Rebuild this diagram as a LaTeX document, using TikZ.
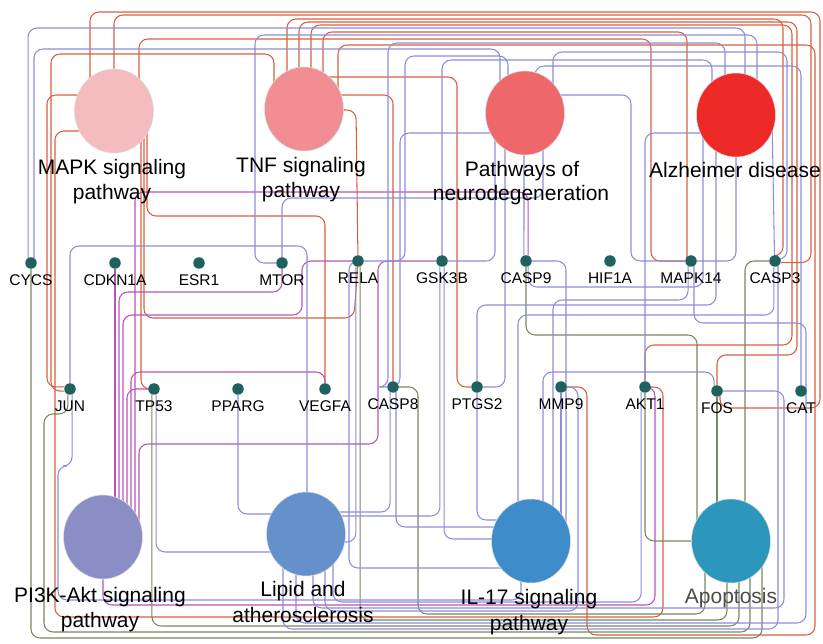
\documentclass[tikz,border=0pt]{standalone}
\usepackage{fontspec}
\setmainfont{Liberation Sans}
\usetikzlibrary{calc,shapes.geometric}
\pgfdeclarelayer{back}
\pgfdeclarelayer{bg}
\pgfsetlayers{back,bg,main}
\definecolor{cR}{RGB}{216,96,62}
\definecolor{cB}{RGB}{140,142,218}
\definecolor{cP}{RGB}{184,84,184}
\definecolor{cG}{RGB}{118,138,94}
\definecolor{cD}{RGB}{30,97,94}
\definecolor{cMAPK}{RGB}{244,188,191}
\definecolor{cTNF}{RGB}{241,142,147}
\definecolor{cPN}{RGB}{238,103,107}
\definecolor{cALZ}{RGB}{238,42,41}
\definecolor{cPI}{RGB}{138,142,197}
\definecolor{cLIP}{RGB}{100,144,203}
\definecolor{cIL}{RGB}{62,141,202}
\definecolor{cAPO}{RGB}{45,150,188}
\tikzset{
  ln/.style={line width=1.05pt, rounded corners=9pt},
  er/.style={ln, draw=cR},
  eb/.style={ln, draw=cB},
  ep/.style={ln, draw=cP},
  eg/.style={ln, draw=cG},
  pw/.style={ellipse, minimum width=79pt, minimum height=84pt, inner sep=0pt, draw=black!12, line width=0.5pt},
  gene/.style={circle, fill=cD, minimum size=11.5pt, inner sep=0pt},
  glab/.style={anchor=base, font=\fontsize{15.5}{17}\selectfont, inner sep=0pt},
  blab/.style={anchor=base, font=\fontsize{21}{25}\selectfont, inner sep=0pt},
}
\begin{document}
\begin{tikzpicture}[x=1pt,y=-1pt]
\useasboundingbox (0,0) rectangle (823,644);
\begin{pgfonlayer}{back}
\fill[white] (0,0) rectangle (823,644);
\end{pgfonlayer}
% pathway nodes
\node[pw, fill=cMAPK] (MAPK) at (114,111) {};
\node[pw, fill=cTNF] (TNF) at (304,109) {};
\node[pw, fill=cPN] (PN) at (525,113) {};
\node[pw, fill=cALZ] (ALZ) at (736,115) {};
\node[pw, fill=cPI] (PI3K) at (103,537) {};
\node[pw, fill=cLIP] (LIP) at (306,534) {};
\node[pw, fill=cIL] (IL17) at (531,541) {};
\node[pw, fill=cAPO] (APO) at (731,541) {};
% pathway labels
\node[blab] (MAPKa) at (112,175) {MAPK signaling};
\node[blab] (MAPKb) at (112,200) {pathway};
\node[blab] (TNFa) at (301,173) {TNF signaling};
\node[blab] (TNFb) at (301,198) {pathway};
\node[blab] (PNa) at (522,177) {Pathways of};
\node[blab] (PNb) at (521,201) {neurodegeneration};
\node[blab] (ALZa) at (735,178) {Alzheimer disease};
\node[blab] (PI3Ka) at (100,602) {PI3K-Akt signaling};
\node[blab] (PI3Kb) at (100,627) {pathway};
\node[blab] (LIPa) at (303,597) {Lipid and};
\node[blab] (LIPb) at (303,623) {atherosclerosis};
\node[blab] (IL17a) at (529,605) {IL-17 signaling};
\node[blab] (IL17b) at (529,630) {pathway};
\node[blab, text=black!70] (APOa) at (731,603) {Apoptosis};
% gene nodes
\foreach \n/\x/\y in {CYCS/31/263, CDKN1A/115/263, ESR1/199/263, MTOR/282/263, RELA/358/261, GSK3B/442/261, CASP9/526/261, HIF1A/610/261, MAPK14/691/261, CASP3/775/261, JUN/70/389, TP53/154/389, PPARG/238/389, VEGFA/325/389, CASP8/393/387, PTGS2/477/387, MMP9/561/387, AKT1/645/387, FOS/717/391, CAT/801/391}{
  \node[gene] (\n) at (\x,\y) {};
  \node[glab] (\n-l) at (\x,\y+23) {\n};
}
\begin{pgfonlayer}{bg}
% red: MAPK / TNF
\draw[er] ($(MAPK)+(-24,0)$) -- (90,12) -- (820,12) -- (820,408) -| (FOS.300);
\draw[er] (MAPK) -- (114,15) -- (811,15) |- (CASP3.345);
\draw[er] ($(MAPK)+(25,0)$) -- (139,39) -- (651,39) |- (MAPK14);
\draw[er] ($(TNF)+(19,0)$) -- (323,32) -- (687,32) -- ($(MAPK14)+(-4,0)$);
\draw[er] ($(TNF)+(-17,0)$) -- (287,19) -- (783,19) |- (CASP3.60);
\draw[er] ($(TNF)+(-5,0)$) -- (299,22) -- (797,22) -- (797,355) -| (FOS);
\draw[er] ($(TNF)+(7,0)$) -- (311,25) -- (792,25) -- (792,345) -| (AKT1);
\draw[er] ($(TNF)+(34,0)$) -- (338,45) -- (815,45) -- (815,635) -- (587,635) |- (MMP9);
\draw[er] ($(TNF)+(18,-32)$) -- (457,77) |- (PTGS2);
\draw[er] ($(TNF)+(30,-14)$) -- (393,95) -- (CASP8);
\draw[er] ($(TNF)+(30,1)$) -- (356,110) -- (RELA);
\draw[er] ($(MAPK)+(-32,-16)$) -- (47,95) |- (JUN.160);
\draw[er] ($(TNF)+(-30,0)$) -- (274,54) -- (51,54) |- (JUN.200);
\draw[er] ($(MAPK)+(27,26)$) |- (TP53);
\draw[er] ($(MAPK)+(33,16)$) -- (147,216) -- (325,216) -- (VEGFA);
\draw[er] ($(MAPK)+(30,22)$) -- (144,318) -- (354,318) -- (RELA);
\draw[er] ($(MAPK)+(-30,20)$) -- (55,131) -- (55,617) -- (663,617) |- (AKT1);
% purple: PI3K-Akt
\draw[ep] (CDKN1A) -- ($(PI3K)+(12,0)$);
\draw[ep] (MTOR) -- (282,292) -- (119,292) -- ($(PI3K)+(16,0)$);
\draw[ep] (RELA) -- (302,261) -- (302,315) -- (123,315) -- ($(PI3K)+(20,0)$);
\draw[ep] (TP53) -| ($(PI3K)+(24,0)$);
\draw[ep] (VEGFA) -- (325,372) -- (131,372) -- ($(PI3K)+(28,0)$);
\draw[ep] (CASP9.70) |- (135,192) -- ($(PI3K)+(32,0)$);
\draw[ep] (GSK3B) -- (378,261) -- (378,444) -- (139,444) -- ($(PI3K)+(36,0)$);
\draw[ep] (PI3K) |- (655,605) |- (AKT1);
% green: Apoptosis
\draw[eg] (CYCS) -- (31,638) -- (762,638) -- ($(APO)+(31,0)$);
\draw[eg] (JUN.250) |- (44,414) -- (44,632) -- (750,632) -- ($(APO)+(19,0)$);
\draw[eg] (TP53.250) |- (739,626) -- ($(APO)+(8,0)$);
\draw[eg] (RELA.290) |- (727,620) -- ($(APO)+(-4,0)$);
\draw[eg] (CASP8) -| (418,614) -- (705,614) -- ($(APO)+(-26,0)$);
\draw[eg] (CASP9) |- (697,335) -- ($(APO)+(-34,0)$);
\draw[eg] (AKT1) |- (APO);
\draw[eg] (FOS) -- ($(APO)+(-14,0)$);
\draw[eg] (CASP3) -| ($(APO)+(14,0)$);
% blue: neurodegeneration, Alzheimer, lipid, IL-17
\draw[eb] (CYCS.120) |- (745,28) -- ($(ALZ)+(9,0)$);
\draw[eb] (CYCS.60) |- (500,49) -- ($(PN)+(-25,0)$);
\draw[eb] (MTOR) -| (255,35) -- (757,35) -- ($(ALZ)+(21,0)$);
\draw[eb] (MTOR) |- (543,198) -- ($(PN)+(18,0)$);
\draw[eb] (JUN) |- (307,246) -- ($(LIP)+(1,0)$);
\draw[eb] (JUN.290) |- (58,466) |- (521,600) -- ($(IL17)+(-10,0)$);
\draw[eb] (TP53.290) |- ($(LIP)+(-30,18)$);
\draw[eb] (PPARG) |- ($(LIP)+(-30,-20)$);
\draw[eb] (RELA.250) |- ($(LIP)+(35,8)$);
\draw[eb] (RELA) -| (349,568) -- ($(IL17)+(-25,27)$);
\draw[eb] (RELA) -| (405,56) -- (508,56) -- ($(PN)+(-17,0)$);
\draw[eb] (CASP8) -| (388,43) -- (725,43) -- ($(ALZ)+(-11,0)$);
\draw[eb] (CASP8) -| (400,133) -- ($(PN)+(-25,20)$);
\draw[eb] (CASP8.240) |- ($(LIP)+(28,-22)$);
\draw[eb] (CASP8.300) |- ($(IL17)+(-30,-14)$);
\draw[eb] (GSK3B) -| ($(PN)+(-30,12)$);
\draw[eb] (GSK3B) -- (442,60) -- (712,60) -- ($(ALZ)+(-24,0)$);
\draw[eb] (GSK3B.250) |- ($(LIP)+(34,-18)$);
\draw[eb] (GSK3B.290) |- ($(IL17)+(-30,-2)$);
\draw[eb] (CASP9.110) -- ($(PN)+(-1,0)$);
\draw[eb] (CASP9) -| ($(IL17)+(35,0)$);
\draw[eb] (CASP9.290) |- (703,287) -- ($(ALZ)+(-33,0)$);
\draw[eb] (MAPK14) -| ($(ALZ)+(0,30)$);
\draw[eb] ($(PN)+(32,-18)$) -- (631,95) |- (MAPK14);
\draw[eb] ($(ALZ)+(-30,18)$) -| (AKT1);
\draw[eb] (MAPK14.300) |- (806,323) |- (296,623) -- ($(LIP)+(-10,0)$);
\draw[eb] (MAPK14.240) |- (553,300) -- ($(IL17)+(22,0)$);
\draw[eb] (CASP3.95) -- ($(ALZ)+(36,0)$);
\draw[eb] (CASP3.15) -| (787,52) -- (553,52) -- ($(PN)+(28,0)$);
\draw[eb] (CASP3.260) |- (518,315) -- ($(IL17)+(-13,0)$);
\draw[eb] (CASP3.300) |- (283,629) -- ($(LIP)+(-23,0)$);
\draw[eb] (CAT) |- (535,66) -- ($(PN)+(10,0)$);
\draw[eb] (FOS.120) |- (543,372) -- ($(IL17)+(12,0)$);
\draw[eb] (FOS) -| (784,608) -- (313,608) -- ($(LIP)+(7,0)$);
\draw[eb] (MMP9) -- ($(IL17)+(30,0)$);
\draw[eb] (MMP9) -| (578,611) -- (325,611) -- ($(LIP)+(19,0)$);
\draw[eb] (AKT1.230) |- (333,602) -- ($(LIP)+(27,0)$);
\draw[eb] (PTGS2) -| ($(PN)+(-20,0)$);
\draw[eb] (PTGS2) |- (716,305) -- ($(ALZ)+(-20,0)$);
\draw[eb] (PTGS2) |- ($(IL17)+(-25,-21)$);
\end{pgfonlayer}
\end{tikzpicture}
\end{document}
